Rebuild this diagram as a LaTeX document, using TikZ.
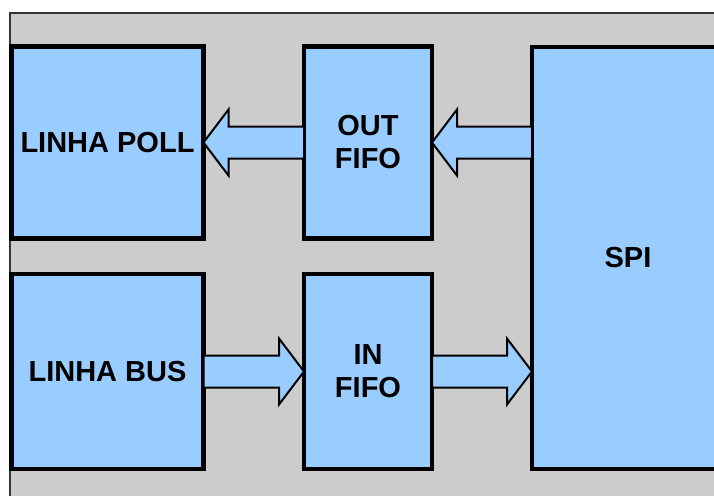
\documentclass[tikz,border=0pt]{standalone}
\usepackage{fontspec}
\setmainfont{Liberation Sans}
\usetikzlibrary{calc}
\definecolor{panelgray}{HTML}{CCCCCC}
\definecolor{boxblue}{HTML}{99CCFF}

\newcommand{\fatarrow}[2]{%
  \draw[fatarrow] let \p1=(#1), \p2=(#2), \p3=($(#2)!12.5pt!(#1)$) in
    (\x1,\y1+8pt) -- (\x3,\y1+8pt) -- (\x3,\y1+16.5pt) -- (\x2,\y2)
    -- (\x3,\y1-16.5pt) -- (\x3,\y1-8pt) -- (\x1,\y1-8pt) -- cycle;}

\begin{document}
\begin{tikzpicture}[x=0.5pt,y=-0.5pt,
  blk/.style={draw,line width=2.4pt,fill=boxblue,align=center,inner sep=0pt,outer sep=0pt,
    font=\bfseries\fontsize{14.5}{16.5}\selectfont},
  fatarrow/.style={draw,line width=1pt,fill=boxblue,line join=miter}]
\useasboundingbox (0,0) rectangle (714,495);
\clip (0,0) rectangle (714,495);
\draw[black!80,line width=0.75pt,fill=panelgray] (10,13) rectangle (740,520);
\node[blk,minimum width=96pt,minimum height=96pt]   (poll)    at (107.5,142.5) {LINHA POLL};
\node[blk,minimum width=64pt,minimum height=96pt]   (outfifo) at (368,142.5)   {OUT\\FIFO};
\node[blk,minimum width=96pt,minimum height=211pt]  (spi)     at (628,258)     {SPI};
\node[blk,minimum width=96pt,minimum height=97.5pt] (bus)     at (107.5,371.5) {LINHA BUS};
\node[blk,minimum width=64pt,minimum height=97.5pt] (infifo)  at (368,371.5)   {IN\\FIFO};
\fatarrow{outfifo.west}{poll.east}
\fatarrow{$(spi.west)!(outfifo.east)!(spi.north west)$}{outfifo.east}
\fatarrow{bus.east}{infifo.west}
\fatarrow{infifo.east}{$(spi.west)!(infifo.east)!(spi.south west)$}
\end{tikzpicture}
\end{document}
